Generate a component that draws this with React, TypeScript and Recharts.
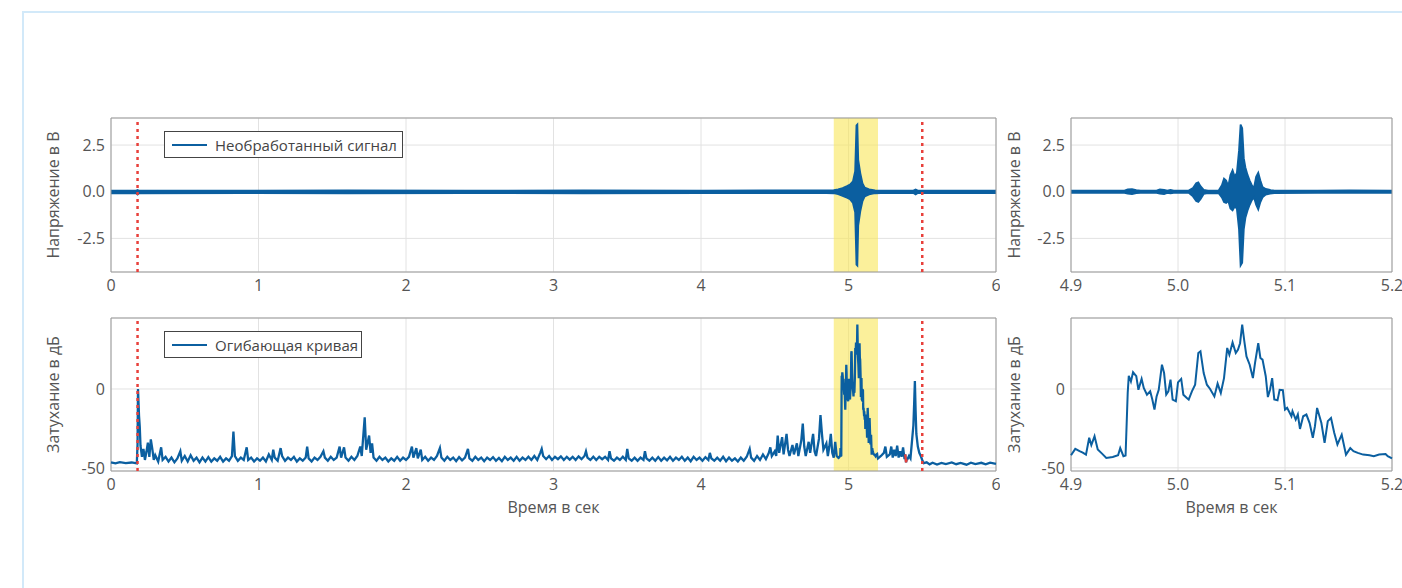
import {
  ComposedChart,
  Line,
  Area,
  XAxis,
  YAxis,
  CartesianGrid,
  ReferenceArea,
  ReferenceLine,
} from "recharts";

const BLUE = "#0b5fa0";
const RED = "#e8403b";
const FONT = "'Open Sans', 'DejaVu Sans', sans-serif";
const TICK = { fill: "#555", fontSize: 16, fontFamily: FONT };

const overviewTicks = [0, 1, 2, 3, 4, 5, 6];
const zoomTicks = [4.9, 5.0, 5.1, 5.2];
const voltTicks = [-2.5, 0, 2.5];
const dbTicks = [-50, 0];
const markerTimes = [0.18, 5.5];
const bandRange = [4.9, 5.2];
const voltDomain: [number, number] = [-4.3, 3.95];
const dbDomain: [number, number] = [-52, 45];

// raw signal, [time, low, high] of the dense oscillation
const rawOverview: [number, number, number][] = [
  [0, -0.08, 0.06], [0.17, -0.08, 0.06], [0.18, -0.15, 0.09], [0.19, -0.08, 0.06],
  [0.9, -0.07, 0.06], [1.6, -0.08, 0.07], [2.4, -0.07, 0.06], [3.2, -0.08, 0.07],
  [4.0, -0.07, 0.06], [4.85, -0.07, 0.07], [4.9, -0.08, 0.08], [4.93, -0.13, 0.13],
  [4.96, -0.22, 0.2], [4.99, -0.32, 0.3], [5.01, -0.4, 0.38], [5.03, -0.6, 0.55],
  [5.045, -1.1, 1.1], [5.054, -3.9, 3.55], [5.06, -3.95, 3.6], [5.066, -1.8, 1.7],
  [5.08, -1.05, 1.0], [5.095, -0.5, 0.45], [5.11, -0.25, 0.22], [5.14, -0.14, 0.13],
  [5.18, -0.08, 0.07], [5.22, -0.07, 0.06], [5.44, -0.07, 0.06], [5.455, -0.15, 0.12],
  [5.47, -0.07, 0.06], [6.0, -0.07, 0.06],
];

const rawZoom: [number, number, number][] = [
  [4.9, -0.06, 0.06], [4.95, -0.06, 0.06], [4.953, -0.1, 0.12], [4.957, -0.13, 0.14],
  [4.961, -0.08, 0.08], [4.965, -0.06, 0.06], [4.98, -0.06, 0.06], [4.983, -0.1, 0.12],
  [4.987, -0.12, 0.1], [4.99, -0.06, 0.06], [4.993, -0.09, 0.1], [4.996, -0.06, 0.06],
  [5.01, -0.06, 0.06], [5.014, -0.25, 0.2], [5.017, -0.5, 0.45], [5.019, -0.55, 0.5],
  [5.021, -0.4, 0.3], [5.024, -0.12, 0.1], [5.028, -0.07, 0.06], [5.038, -0.08, 0.07],
  [5.041, -0.3, 0.35], [5.043, -0.55, 0.7], [5.045, -0.6, 0.6], [5.047, -0.5, 0.3],
  [5.049, -0.9, 0.9], [5.051, -1.0, 1.15], [5.053, -0.8, 0.8], [5.055, -0.9, 1.0],
  [5.057, -2.0, 2.2], [5.0585, -3.95, 3.6], [5.06, -3.8, 3.4], [5.0615, -2.0, 1.8],
  [5.063, -1.4, 1.3], [5.065, -1.0, 0.9], [5.067, -0.7, 0.6], [5.069, -0.45, 0.35],
  [5.071, -0.3, 0.2], [5.073, -0.7, 0.8], [5.075, -0.95, 1.02], [5.077, -0.55, 0.6],
  [5.079, -0.3, 0.25], [5.082, -0.15, 0.15], [5.086, -0.1, 0.1], [5.09, -0.07, 0.06],
  [5.13, -0.06, 0.06], [5.16, -0.06, 0.07], [5.2, -0.06, 0.06],
];

// envelope in dB, [time, value]
const envelopeZoom: [number, number][] = [
  [4.9, -42], [4.904, -38], [4.908, -39.4], [4.911, -40.3], [4.914, -41.6], [4.917, -30.9],
  [4.919, -35.6], [4.922, -30], [4.925, -38.4], [4.929, -41], [4.933, -43.7], [4.939, -43.1],
  [4.944, -42], [4.946, -37.5], [4.949, -42.6], [4.951, -42.2], [4.953, -2.5], [4.954, 8.4],
  [4.956, 4.7], [4.958, 10.6], [4.961, 8.1], [4.963, -0.5], [4.966, 6.4], [4.968, 0.7],
  [4.971, -3.6], [4.974, -1.5], [4.976, -6.7], [4.978, -13.1], [4.98, -4.7], [4.982, -0.5],
  [4.985, 15.4], [4.987, 10.1], [4.989, -3.6], [4.991, -1.5], [4.993, 5.9], [4.995, -6.7],
  [4.998, -7.8], [5.0, 4.2], [5.003, 6.4], [5.005, -3.6], [5.008, -5.6], [5.01, -6.7],
  [5.013, -1.5], [5.016, 2.7], [5.019, 22.8], [5.021, 23.9], [5.024, 10.1], [5.027, 2.7],
  [5.03, 0], [5.034, -4.7], [5.037, 3.4], [5.04, -2.5], [5.043, 6.9], [5.046, 26],
  [5.048, 21.7], [5.051, 29.5], [5.054, 22.8], [5.056, 24.9], [5.058, 29], [5.06, 40.8],
  [5.062, 30.2], [5.064, 20.6], [5.067, 15.4], [5.07, 6.9], [5.072, 16.5], [5.075, 29],
  [5.077, 19.7], [5.079, 18.6], [5.082, 8.1], [5.084, -5.1], [5.086, -0.5], [5.088, 6.9],
  [5.09, -6.7], [5.093, -7.2], [5.095, -0.5], [5.098, -0.8], [5.1, -13.1], [5.102, -12],
  [5.106, -17.3], [5.107, -14.1], [5.11, -19.4], [5.112, -16.2], [5.114, -25.3], [5.117, -17.3],
  [5.12, -16.2], [5.123, -21.6], [5.126, -30.9], [5.128, -23.6], [5.13, -12], [5.134, -21.6],
  [5.137, -34.2], [5.14, -20.4], [5.143, -18.4], [5.146, -27.8], [5.149, -35.2], [5.153, -29],
  [5.157, -41.6], [5.161, -37.5], [5.164, -39.4], [5.168, -40.5], [5.173, -41.6], [5.179, -42],
  [5.183, -42.6], [5.188, -41.6], [5.194, -41.2], [5.196, -42.6], [5.2, -44],
];

const envelopeBefore: [number, number][] = [
  [0, -46.5], [0.03, -47.2], [0.06, -46.4], [0.1, -47], [0.14, -46.6], [0.175, -47.2],
  [0.18, -35], [0.183, 0], [0.19, -17], [0.195, -24], [0.2, -36], [0.21, -43], [0.22, -38],
  [0.23, -45], [0.24, -40], [0.25, -34], [0.26, -43], [0.27, -32], [0.28, -38], [0.29, -45],
  [0.3, -42], [0.32, -46], [0.34, -37], [0.35, -45], [0.37, -43], [0.39, -46], [0.41, -43.5],
  [0.43, -46.5], [0.45, -44], [0.47, -39.5], [0.48, -45.5], [0.5, -42.5], [0.52, -46],
  [0.54, -42], [0.56, -45.5], [0.58, -43.5], [0.6, -46.5], [0.62, -43.5], [0.64, -46],
  [0.66, -43.2], [0.68, -46], [0.7, -44], [0.72, -45.5], [0.74, -43], [0.76, -46],
  [0.78, -44], [0.8, -45.5], [0.82, -42.5], [0.83, -27], [0.84, -42.5], [0.86, -45.5],
  [0.88, -43.5], [0.9, -45], [0.92, -37], [0.93, -45], [0.95, -43.5], [0.97, -46], [0.99, -44],
  [1.01, -45.5], [1.03, -43.5], [1.05, -46], [1.07, -41.5], [1.09, -45], [1.1, -38.5], [1.11, -43.5],
  [1.13, -45.5], [1.15, -37.5], [1.16, -42.5], [1.18, -45.5], [1.2, -43.5], [1.22, -45], [1.24, -43],
  [1.26, -46], [1.28, -44], [1.3, -45.5], [1.32, -43.5], [1.33, -36.5], [1.34, -44], [1.36, -46],
  [1.38, -43.5], [1.4, -45], [1.42, -43], [1.44, -39.5], [1.45, -43.5], [1.47, -45.5], [1.49, -43],
  [1.51, -45], [1.53, -43.5], [1.55, -36.5], [1.56, -43.5], [1.58, -37], [1.59, -43.5], [1.61, -45.5],
  [1.63, -43], [1.65, -45], [1.67, -42.5], [1.69, -36.5], [1.7, -42.5], [1.72, -18], [1.73, -38.5],
  [1.75, -29.5], [1.76, -40.5], [1.77, -34.5], [1.78, -43.5], [1.8, -45.5], [1.82, -43], [1.84, -45],
  [1.86, -43.5], [1.88, -46], [1.9, -44], [1.92, -45.5], [1.94, -43], [1.96, -45.5],
  [1.98, -43.5], [2.0, -45], [2.02, -43], [2.04, -36.5], [2.05, -43.5], [2.07, -37.5], [2.08, -44],
  [2.1, -38.5], [2.11, -45], [2.13, -43], [2.15, -45.5], [2.17, -43.5], [2.19, -45], [2.21, -42.5],
  [2.23, -37.5], [2.24, -43.5], [2.26, -45.5], [2.28, -43], [2.3, -45], [2.32, -43.5], [2.34, -45.8],
  [2.36, -43.2], [2.38, -45.2], [2.4, -43.5], [2.42, -38], [2.43, -44], [2.45, -45.5],
  [2.47, -43], [2.49, -45], [2.51, -43.5], [2.53, -45.8], [2.55, -43.5], [2.57, -45], [2.59, -43.2],
  [2.61, -45.5], [2.63, -43.7], [2.65, -45.8], [2.67, -43], [2.69, -45], [2.71, -43.5],
  [2.73, -45.5], [2.75, -43], [2.77, -45.5], [2.79, -43.5], [2.81, -45], [2.83, -43],
  [2.85, -45], [2.87, -42.5], [2.89, -45], [2.91, -40.5], [2.92, -38], [2.93, -42.5], [2.95, -44.5],
  [2.97, -42.5], [2.99, -45], [3.01, -43], [3.03, -44.5], [3.05, -42.7], [3.07, -45], [3.09, -43],
  [3.11, -44.8], [3.13, -43], [3.15, -45], [3.17, -42.7], [3.19, -44.5], [3.21, -42.5], [3.22, -39.5],
  [3.23, -43.5], [3.25, -45], [3.27, -43], [3.29, -45], [3.31, -43], [3.33, -44.5], [3.35, -43],
  [3.37, -45], [3.38, -39.5], [3.39, -44], [3.41, -45.5], [3.43, -43.5], [3.45, -45], [3.47, -43],
  [3.49, -45], [3.5, -38], [3.51, -44], [3.53, -45.5], [3.55, -43.5], [3.57, -45.5], [3.59, -43.5],
  [3.61, -45], [3.62, -39.5], [3.63, -44], [3.65, -45.5], [3.67, -43.5], [3.69, -45.5], [3.71, -43.2],
  [3.73, -45.5], [3.75, -43.5], [3.77, -45.2], [3.79, -43], [3.81, -45.5], [3.83, -43.5], [3.85, -45],
  [3.87, -43], [3.89, -45.5], [3.91, -43.5], [3.93, -45.8], [3.95, -43], [3.97, -45], [3.99, -43.5],
  [4.01, -45.5], [4.03, -43.2], [4.05, -45], [4.06, -40.5], [4.07, -44], [4.09, -45.5], [4.11, -43.5],
  [4.13, -45.5], [4.15, -43], [4.17, -45.8], [4.19, -43.5], [4.21, -45.5], [4.23, -44], [4.25, -46],
  [4.27, -43.5], [4.29, -45.5], [4.31, -43], [4.33, -38], [4.34, -43.5], [4.36, -45.5], [4.38, -42.5],
  [4.4, -45], [4.42, -41.5], [4.44, -44.5], [4.46, -40.5], [4.47, -37], [4.48, -42.5], [4.5, -39.5],
  [4.51, -42.5], [4.52, -29.5], [4.53, -40.5], [4.55, -30.5], [4.56, -41.5], [4.58, -28.5], [4.59, -38.5],
  [4.6, -42.5], [4.62, -35.5], [4.63, -41.5], [4.65, -34.5], [4.66, -42.5], [4.68, -32.5], [4.69, -22],
  [4.7, -36.5], [4.71, -42.5], [4.73, -33.5], [4.74, -40.5], [4.76, -28.5], [4.77, -39.5], [4.78, -42.5],
  [4.8, -31.5], [4.81, -16.5], [4.82, -28.5], [4.83, -38.5], [4.85, -34.5], [4.86, -42.5], [4.87, -36.5],
  [4.88, -28.5], [4.89, -40.5], [4.9, -43.5], [4.91, -33.5], [4.92, -42.5], [4.93, -43.5],
];

const envelopeAfter: [number, number][] = [
  [5.22, -42.5], [5.24, -40.5], [5.25, -36.5], [5.26, -43], [5.28, -41.5], [5.29, -36.5], [5.3, -43.5],
  [5.31, -38.5], [5.32, -42.5], [5.33, -36], [5.34, -43.5], [5.35, -39.5], [5.36, -43], [5.37, -37],
  [5.38, -44.5], [5.385, -41.5], [5.39, -46.5], [5.395, -44.5], [5.4, -44.5], [5.41, -42.5], [5.42, -44],
  [5.43, -33.5], [5.44, -23], [5.445, -9.5], [5.45, 5], [5.455, -14], [5.46, -28.5], [5.47, -36.5],
  [5.48, -40.5], [5.49, -42.5], [5.5, -45], [5.51, -47], [5.53, -46.5], [5.55, -47.8], [5.57, -46.8],
  [5.6, -47.9], [5.63, -46.9], [5.66, -47.6], [5.7, -46.6], [5.73, -47.7], [5.76, -46.9], [5.8, -48],
  [5.83, -46.7], [5.86, -47.6], [5.9, -46.8], [5.93, -47.8], [5.96, -46.7], [6.0, -47.5],
];

const envelopeRed: [number, number][] = [[5.385, -41.5], [5.39, -46.5], [5.395, -44.5]];

const toRange = (rows: [number, number, number][]) =>
  rows.map(([t, lo, hi]) => ({ t, range: [lo, hi] }));
const toPoints = (rows: [number, number][]) => rows.map(([t, v]) => ({ t, v }));

const rawOverviewData = toRange(rawOverview);
const rawZoomData = toRange(rawZoom);
const envZoomData = toPoints(envelopeZoom);
const envOverviewData = toPoints([
  ...envelopeBefore,
  ...envelopeZoom.filter(([t]) => t > 4.93),
  ...envelopeAfter,
]);
const envRedData = toPoints(envelopeRed);

const axisTitle = { fill: "#555", fontSize: 16, fontFamily: FONT };
const fmt1 = (v: number) => v.toFixed(1);

const LegendBox = ({ left, top, width, text }: { left: number; top: number; width: number; text: string }) => (
  <div
    style={{
      position: "absolute",
      left,
      top,
      width,
      height: 27,
      boxSizing: "border-box",
      border: "1.5px solid #444",
      background: "#fff",
      display: "flex",
      alignItems: "center",
      fontFamily: FONT,
      fontSize: 15,
      color: "#444",
    }}
  >
    <div style={{ width: 35, height: 2, background: BLUE, marginLeft: 7, marginRight: 8 }} />
    <span>{text}</span>
  </div>
);

const App = () => {
  return (
    <div style={{ position: "absolute", left: 0, top: 0, width: 1402, height: 588, background: "#fff", overflow: "hidden" }}>
      <div
        style={{
          position: "absolute",
          left: 22,
          top: 11,
          width: 1420,
          height: 620,
          border: "2px solid #d2e9f9",
        }}
      />

      {/* raw signal, whole record */}
      <div style={{ position: "absolute", left: 0, top: 100 }}>
        <ComposedChart width={1000} height={202} data={rawOverviewData} margin={{ top: 18, right: 4, left: 0, bottom: 0 }}>
          <ReferenceArea x1={bandRange[0]} x2={bandRange[1]} y1={voltDomain[0]} y2={voltDomain[1]} fill="#f9e658" fillOpacity={0.6} stroke="none" />
          <CartesianGrid stroke="#e2e2e2" />
          <XAxis dataKey="t" type="number" domain={[0, 6]} ticks={overviewTicks} interval={0} height={30} tick={TICK} tickLine={false} axisLine={false} />
          <YAxis type="number" domain={voltDomain} ticks={voltTicks} width={111} tick={TICK} tickFormatter={fmt1} tickLine={false} axisLine={false} tickSize={4}
            label={{ value: "Напряжение в В", angle: -90, position: "center", dx: -2.5, ...axisTitle }} />
          <Area dataKey="range" type="linear" stroke={BLUE} fill={BLUE} fillOpacity={1} strokeWidth={1.8} dot={false} activeDot={false} isAnimationActive={false} />
          {markerTimes.map((m) => (
            <ReferenceLine key={m} x={m} stroke={RED} strokeWidth={2.5} strokeDasharray="3 4" />
          ))}
          <ReferenceArea x1={0} x2={6} y1={voltDomain[0]} y2={voltDomain[1]} fill="none" stroke="#999" />
        </ComposedChart>
        <LegendBox left={164} top={31} width={239} text="Необработанный сигнал" />
      </div>

      {/* raw signal, zoomed */}
      <div style={{ position: "absolute", left: 1000, top: 100 }}>
        <ComposedChart width={402} height={202} data={rawZoomData} margin={{ top: 18, right: 10, left: 0, bottom: 0 }}>
          <CartesianGrid stroke="#e2e2e2" />
          <XAxis dataKey="t" type="number" domain={[4.9, 5.2]} ticks={zoomTicks} interval={0} height={30} tick={TICK} tickFormatter={fmt1} tickLine={false} axisLine={false} />
          <YAxis type="number" domain={voltDomain} ticks={voltTicks} width={71} tick={TICK} tickFormatter={fmt1} tickLine={false} axisLine={false} tickSize={4}
            label={{ value: "Напряжение в В", angle: -90, position: "center", dx: -21.5, ...axisTitle }} />
          <Area dataKey="range" type="linear" stroke={BLUE} fill={BLUE} fillOpacity={1} strokeWidth={1.8} dot={false} activeDot={false} isAnimationActive={false} />
          <ReferenceArea x1={4.9} x2={5.2} y1={voltDomain[0]} y2={voltDomain[1]} fill="none" stroke="#999" />
        </ComposedChart>
      </div>

      {/* envelope, whole record */}
      <div style={{ position: "absolute", left: 0, top: 300 }}>
        <ComposedChart width={1000} height={223} data={envOverviewData} margin={{ top: 18, right: 4, left: 0, bottom: 0 }}>
          <ReferenceArea x1={bandRange[0]} x2={bandRange[1]} y1={dbDomain[0]} y2={dbDomain[1]} fill="#f9e658" fillOpacity={0.6} stroke="none" />
          <CartesianGrid stroke="#e2e2e2" />
          <XAxis dataKey="t" type="number" domain={[0, 6]} ticks={overviewTicks} interval={0} height={52} tick={TICK} tickLine={false} axisLine={false}
            label={{ value: "Время в сек", position: "insideBottom", offset: 10, ...axisTitle }} />
          <YAxis type="number" domain={dbDomain} ticks={dbTicks} width={111} tick={TICK} tickLine={false} axisLine={false} tickSize={4}
            label={{ value: "Затухание в дБ", angle: -90, position: "center", dx: -2.5, ...axisTitle }} />
          <Line dataKey="v" type="linear" stroke={BLUE} strokeWidth={2.3} dot={false} activeDot={false} isAnimationActive={false} />
          <Line data={envRedData} dataKey="v" type="linear" stroke={RED} strokeWidth={2.3} dot={false} activeDot={false} isAnimationActive={false} />
          {markerTimes.map((m) => (
            <ReferenceLine key={m} x={m} stroke={RED} strokeWidth={2.5} strokeDasharray="3 4" />
          ))}
          <ReferenceArea x1={0} x2={6} y1={dbDomain[0]} y2={dbDomain[1]} fill="none" stroke="#999" />
        </ComposedChart>
        <LegendBox left={164} top={31} width={198} text="Огибающая кривая" />
      </div>

      {/* envelope, zoomed */}
      <div style={{ position: "absolute", left: 1000, top: 300 }}>
        <ComposedChart width={402} height={223} data={envZoomData} margin={{ top: 18, right: 10, left: 0, bottom: 0 }}>
          <CartesianGrid stroke="#e2e2e2" />
          <XAxis dataKey="t" type="number" domain={[4.9, 5.2]} ticks={zoomTicks} interval={0} height={52} tick={TICK} tickFormatter={fmt1} tickLine={false} axisLine={false}
            label={{ value: "Время в сек", position: "insideBottom", offset: 10, ...axisTitle }} />
          <YAxis type="number" domain={dbDomain} ticks={dbTicks} width={71} tick={TICK} tickLine={false} axisLine={false} tickSize={4}
            label={{ value: "Затухание в дБ", angle: -90, position: "center", dx: -21.5, ...axisTitle }} />
          <Line dataKey="v" type="linear" stroke={BLUE} strokeWidth={2} dot={false} activeDot={false} isAnimationActive={false} />
          <ReferenceArea x1={4.9} x2={5.2} y1={dbDomain[0]} y2={dbDomain[1]} fill="none" stroke="#999" />
        </ComposedChart>
      </div>
    </div>
  );
};

export default App;
